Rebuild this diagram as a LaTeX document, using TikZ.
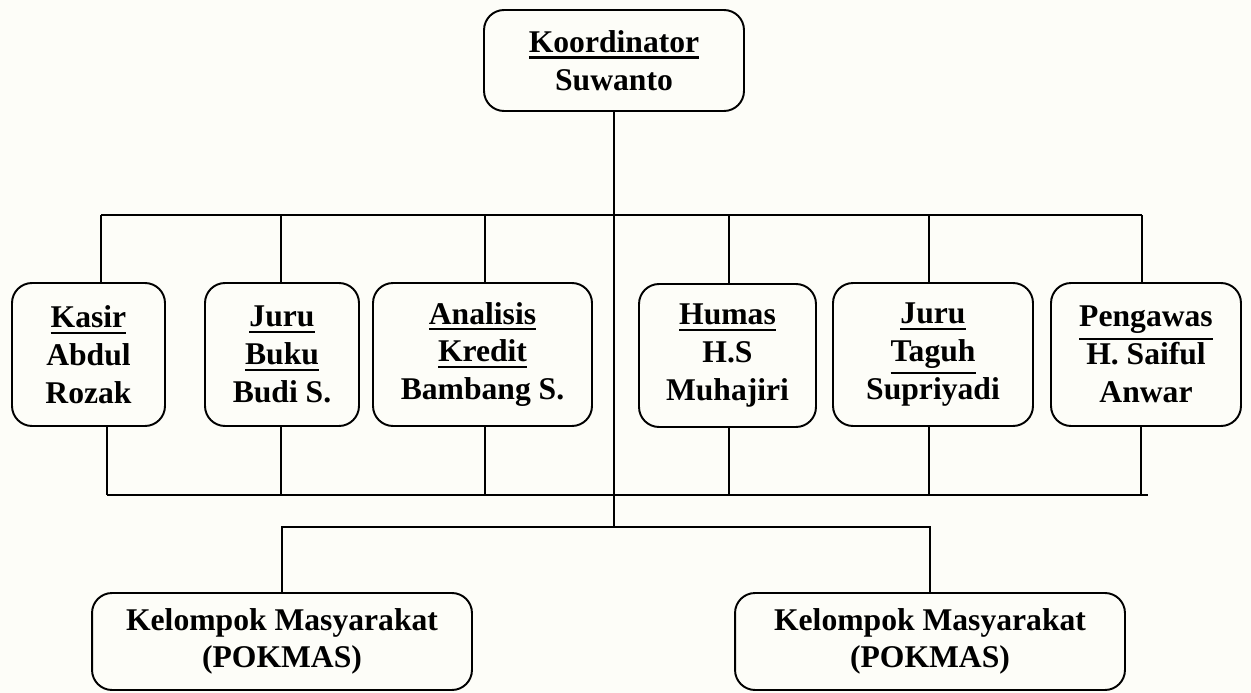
\documentclass[tikz,border=0pt]{standalone}
\usepackage{fontspec}
\setmainfont{Liberation Serif}
\definecolor{paper}{RGB}{253,253,248}
% thicker underline, as in the chart
\newcommand\uword[1]{\setbox0\hbox{#1}\leavevmode\rlap{\rule[\dimexpr-\dp0-3.4pt\relax]{\wd0}{1.3pt}}\box0}
\begin{document}
\begin{tikzpicture}[x=0.02cm,y=-0.02cm,line width=1.1pt]
\tikzset{every node/.style={font=\bfseries\fontsize{18}{21.5}\selectfont,align=center,inner sep=0},
    box/.style={draw=black,rounded corners=0.4cm,minimum height=2.86cm},
    pokbox/.style={box,minimum height=1.94cm}}
    \fill[paper] (0,0) rectangle (1251,693);
    \useasboundingbox (0,0) rectangle (1251,693);

    \node[box,minimum width=5.2cm,minimum height=2.02cm] (koor) at (614,60.5) {\uword{Koordinator}\\Suwanto};

    \node[box,minimum width=3.06cm] (kasir) at (88.5,354.5) {\uword{Kasir}\\Abdul\\Rozak};
    \node[box,minimum width=3.08cm] (buku) at (282,354.5) {\uword{Juru}\\\uword{Buku}\\Budi S.};
    \node[box,minimum width=4.38cm] (kredit) at (482.5,354.5) {\uword{Analisis}\\\uword{Kredit}\\Bambang S.};
    \node[box,minimum width=3.54cm] (humas) at (727.5,355.5) {\uword{Humas}\\H.S\\Muhajiri};
    \node[box,minimum width=4.0cm] (taguh) at (933,354.5) {\uword{Juru}\\\uword{Taguh}\\Supriyadi};
    \node[box,minimum width=3.8cm] (awas) at (1146,354.5) {\uword{Pengawas}\\H. Saiful\\Anwar};

    \node[pokbox,minimum width=7.6cm] (pok1) at (282,641.5) {Kelompok Masyarakat\\(POKMAS)};
    \node[pokbox,minimum width=7.8cm] (pok2) at (930,641.5) {Kelompok Masyarakat\\(POKMAS)};

    \coordinate (hub) at (614,528);
    \draw (koor) -- (hub);
    \draw (101,215) -- (1142,215);
    \draw (107,495) -- (1148,495);
    \foreach \n/\a/\b in {kasir/101/107,buku/281/281,kredit/485/485,humas/729/729,taguh/929/929,awas/1142/1141}{
        \draw (\a,215) -- (\n.north -| \a,0);
        \draw (\n.south -| \b,0) -- (\b,495);
    }
    \draw (pok1.north) -- ++(0,-65) -| (pok2.north);
\end{tikzpicture}
\end{document}
